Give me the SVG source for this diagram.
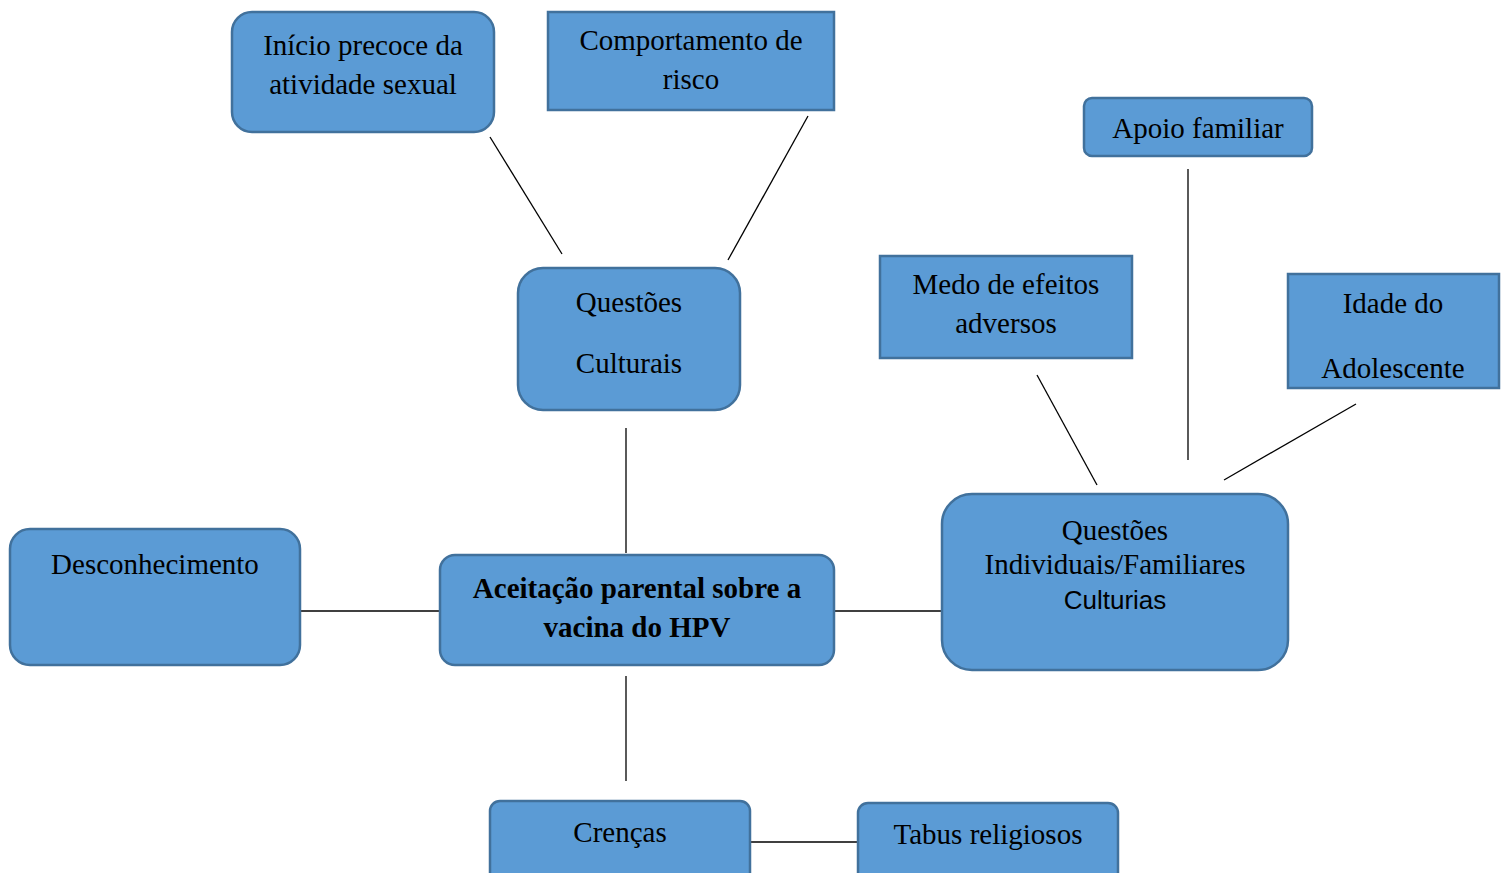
<svg xmlns="http://www.w3.org/2000/svg" width="1506" height="873" viewBox="0 0 1506 873">
<style>
.box{fill:#5B9BD5;stroke:#41719C;stroke-width:2.5}
.t{font-family:"Liberation Serif","Times New Roman",serif;font-size:29px;fill:#000;text-anchor:middle}
.b{font-weight:bold}
.s{font-family:"Liberation Sans",Arial,sans-serif;font-size:26px;fill:#000;text-anchor:middle}
.c line{stroke:#000;stroke-width:1.3}
</style>
<rect width="1506" height="873" fill="#fff"/>
<g class="c" id="connectors">
<line x1="490" y1="137" x2="562" y2="254"/>
<line x1="808" y1="116" x2="728" y2="260"/>
<line x1="626" y1="428" x2="626" y2="553"/>
<line x1="300" y1="611" x2="440" y2="611"/>
<line x1="834" y1="611" x2="942" y2="611"/>
<line x1="626" y1="676" x2="626" y2="781"/>
<line x1="750" y1="842" x2="858" y2="842"/>
<line x1="1037" y1="375" x2="1097" y2="485"/>
<line x1="1188" y1="169" x2="1188" y2="460"/>
<line x1="1356" y1="404" x2="1224" y2="480"/>
</g>
<g id="inicio"><rect class="box" x="232" y="12" width="262" height="120" rx="20"/><text class="t" x="363" y="55">Início precoce da</text><text class="t" x="363" y="94">atividade sexual</text></g>
<g id="comportamento"><rect class="box" x="548" y="12" width="286" height="98"/><text class="t" x="691" y="50">Comportamento de</text><text class="t" x="691" y="89">risco</text></g>
<g id="apoio"><rect class="box" x="1084" y="98" width="228" height="58" rx="8"/><text class="t" x="1198" y="138">Apoio familiar</text></g>
<g id="medo"><rect class="box" x="880" y="256" width="252" height="102"/><text class="t" x="1006" y="294">Medo de efeitos</text><text class="t" x="1006" y="333">adversos</text></g>
<g id="idade"><rect class="box" x="1288" y="274" width="211" height="114"/><text class="t" x="1393" y="313">Idade do</text><text class="t" x="1393" y="378">Adolescente</text></g>
<g id="culturais"><rect class="box" x="518" y="268" width="222" height="142" rx="25"/><text class="t" x="629" y="312">Questões</text><text class="t" x="629" y="373">Culturais</text></g>
<g id="desconhecimento"><rect class="box" x="10" y="529" width="290" height="136" rx="20"/><text class="t" x="155" y="574">Desconhecimento</text></g>
<g id="aceitacao"><rect class="box" x="440" y="555" width="394" height="110" rx="15"/><text class="t b" x="637" y="598">Aceitação parental sobre a</text><text class="t b" x="637" y="637">vacina do HPV</text></g>
<g id="individuais"><rect class="box" x="942" y="494" width="346" height="176" rx="30"/><text class="t" x="1115" y="540">Questões</text><text class="t" x="1115" y="574">Individuais/Familiares</text><text class="s" x="1115" y="609">Culturias</text></g>
<g id="crencas"><rect class="box" x="490" y="801" width="260" height="84" rx="10"/><text class="t" x="620" y="842">Crenças</text></g>
<g id="tabus"><rect class="box" x="858" y="803" width="260" height="84" rx="10"/><text class="t" x="988" y="844">Tabus religiosos</text></g>
</svg>
